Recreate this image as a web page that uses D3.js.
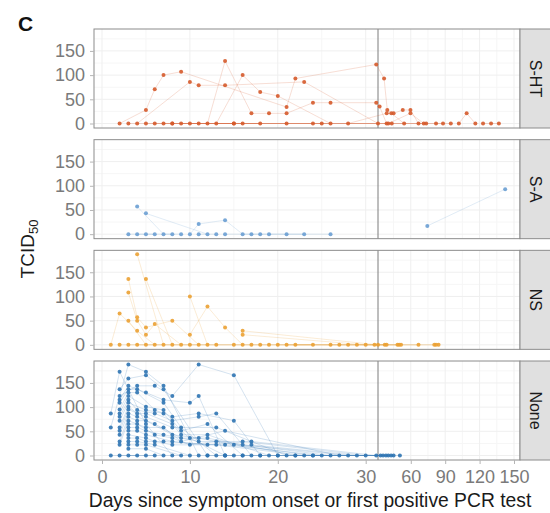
<!DOCTYPE html>
<html>
<head>
<meta charset="utf-8">
<script src="https://cdn.jsdelivr.net/npm/d3@7"></script>
<style>
  body { margin: 0; background: #fff; }
  svg { font-family: "Liberation Sans", Arial, sans-serif; }
  .tick text { fill: #7a7a7a; font-size: 18px; }
  .tick line { stroke: #b5b5b5; }
  .domain { display: none; }
</style>
</head>
<body>
<div id="chart"></div>
<script>
// facet groups, top to bottom
const groups = ["S-HT", "S-A", "NS", "None"];
const xTicks = [0, 10, 20, 30, 60, 90, 120, 150];
const yTicks = [0, 50, 100, 150];
const breakDay = 31.4; // axis is compressed after this day

// each patient = list of [day, TCID50]
const shtPatients = [
    [[2, 0], [5, 28], [6, 71], [7, 100], [9, 107], [21, 34], [22, 93], [31.2, 122], [36.7, 93], [39.5, 28], [43, 21], [54.2, 0]],
    [[4, 0], [10, 86], [11, 79], [14, 79], [23, 86], [31.4, 0]],
    [[12, 0], [14, 129], [17, 21], [19, 21], [21, 21], [24, 43], [26, 43], [31.2, 43], [32.8, 35], [38.9, 0]],
    [[13, 0], [16, 100], [18, 65], [20, 57], [26, 0]],
    [[28, 0], [39, 21], [45, 21], [53, 28], [59.7, 28], [66.7, 0]],
    [[40.4, 0], [59.7, 21], [71.3, 0]],
    [[101.9, 0], [108.7, 21], [116.3, 0]],
    [[3, 0], [8, 0], [15, 0]],
    [[5, 0], [11, 0], [18, 0]],
    [[6, 0], [15, 0], [25, 0]],
    [[7, 0], [16, 0], [43.4, 0]],
    [[8, 0], [21, 0], [73.4, 0]],
    [[9, 0], [24, 0], [82, 0], [88.1, 0]],
    [[10, 0], [94.9, 0]],
    [[123, 0], [130, 0], [136.8, 0]]
];

const saPatients = [
    [[4, 57], [7, 0], [9, 0]],
    [[5, 43], [12, 0]],
    [[10, 0], [11, 21], [14, 29], [16, 0], [21, 0], [26, 0]],
    [[74.4, 17], [142.3, 93]],
    [[3, 0], [5, 0], [6, 0]],
    [[4, 0], [8, 0]],
    [[11, 0], [13, 0]],
    [[14, 0], [17, 0], [19, 0], [23, 0]],
    [[18, 0]]
];

const nsPatients = [
    [[1, 0], [2, 65], [4, 29], [6, 0]],
    [[3, 136], [4, 57], [5, 36], [8, 50], [11, 0]],
    [[3, 108], [4, 50], [5, 21], [6, 43], [9, 0]],
    [[3, 50], [5, 0]],
    [[4, 187], [7, 0]],
    [[5, 136], [8, 0]],
    [[10, 100], [12, 0]],
    [[10, 21], [12, 79], [14, 36], [16, 0]],
    [[16, 29], [31.4, 0], [48.4, 0]],
    [[16, 21], [30, 0], [37.3, 0]],
    [[2, 0], [10, 0], [17, 0], [24, 0]],
    [[3, 0], [13, 0], [18, 0], [26, 0], [38.9, 0]],
    [[4, 0], [15, 0], [19, 0], [27, 0], [49.9, 0]],
    [[20, 0], [28, 0], [51.5, 0], [66.7, 0]],
    [[21, 0], [29, 0], [80.5, 0], [82, 0]],
    [[22, 0], [31, 0], [84.2, 0]]
];

const nonePatients = [
    [[1, 87], [2, 173], [5, 65], [8, 0]],
    [[1, 58], [3, 188], [5, 173], [7, 144], [11, 0]],
    [[2, 137], [3, 159], [5, 166], [7, 137], [12, 0]],
    [[2, 123], [4, 144], [6, 144], [8, 123], [11, 188], [15, 166], [20, 0]],
    [[2, 115], [3, 144], [5, 130], [7, 115], [10, 109], [11, 123], [14, 0]],
    [[2, 109], [3, 137], [4, 137], [7, 109], [9, 58], [13, 0]],
    [[2, 95], [3, 130], [4, 130], [6, 94], [8, 80], [11, 87], [15, 72], [18, 0]],
    [[2, 87], [3, 123], [5, 101], [7, 94], [9, 51], [12, 65], [16, 0]],
    [[2, 80], [3, 115], [4, 94], [6, 87], [8, 72], [11, 80], [13, 87], [17, 0]],
    [[2, 72], [3, 109], [5, 94], [7, 87], [9, 43], [12, 43], [19, 0]],
    [[2, 58], [3, 101], [4, 87], [5, 87], [8, 65], [10, 36], [14, 0]],
    [[2, 51], [3, 95], [5, 80], [8, 58], [13, 58], [21, 0]],
    [[2, 43], [3, 87], [4, 80], [6, 65], [9, 36], [12, 36], [22, 0]],
    [[2, 29], [3, 80], [4, 72], [5, 72], [8, 43], [11, 36], [15, 22], [24, 0]],
    [[2, 22], [3, 72], [5, 58], [7, 58], [9, 29], [14, 51], [27, 0]],
    [[3, 65], [4, 65], [6, 43], [8, 36], [10, 22], [13, 29], [26, 0]],
    [[3, 58], [4, 58], [5, 51], [7, 43], [11, 29], [16, 29], [30, 0]],
    [[3, 51], [4, 51], [5, 43], [8, 29], [12, 22], [17, 29], [31.2, 0]],
    [[3, 43], [5, 36], [6, 29], [8, 22], [14, 22], [25, 0]],
    [[3, 36], [4, 36], [5, 29], [7, 29], [13, 22], [23, 0]],
    [[3, 29], [4, 29], [6, 22], [10, 0]],
    [[3, 22], [4, 22], [5, 22], [9, 0]],
    [[3, 14], [5, 14], [7, 0]],
    [[16, 22], [28, 0]],
    [[17, 22], [29, 0]],
    [[1, 0], [4, 0]],
    [[2, 0], [6, 0]],
    [[3, 0], [5, 0], [15, 0]],
    [[12, 0], [33.6, 0]],
    [[14, 0], [35.8, 0]],
    [[16, 0], [38.3, 0]],
    [[18, 0], [40.4, 0]],
    [[20, 0], [42.8, 0]],
    [[22, 0], [45, 0]],
    [[24, 0], [50.5, 0]]
];

const patientsByGroup = [shtPatients, saPatients, nsPatients, nonePatients];
const groupColors = ["#d55a2b", "#6a9fd3", "#eba133", "#2f74b2"];

// layout
const margin = { top: 29, left: 94, right: 30 };
const width = 550, height = 513;
const plotW = 520 - margin.left;
const panelH = 99, panelStep = 110.67;

const svg = d3.select("#chart").append("svg")
    .attr("width", width)
    .attr("height", height);

// piecewise x: linear up to breakDay, compressed after
const x = d3.scaleLinear()
    .domain([0, breakDay, 150])
    .range([8, 284, 420]);

const y = d3.scaleLinear()
    .domain([-9.3, 195.3])
    .range([panelH, 0]);

const minorX = [5, 15, 25, 45, 75, 105, 135];
const minorY = [25, 75, 125, 175];

groups.forEach((g, i) => {
    let panel = svg.append("g")
        .attr("transform", "translate(" + margin.left + "," + (margin.top + i * panelStep) + ")");

    // grid
    panel.selectAll(".gx-minor").data(minorX).enter().append("line")
        .attr("x1", d => x(d)).attr("x2", d => x(d))
        .attr("y1", 0).attr("y2", panelH)
        .attr("stroke", "#f6f6f6");
    panel.selectAll(".gy-minor").data(minorY).enter().append("line")
        .attr("x1", 0).attr("x2", plotW)
        .attr("y1", d => y(d)).attr("y2", d => y(d))
        .attr("stroke", "#f6f6f6");
    panel.selectAll(".gx").data(xTicks).enter().append("line")
        .attr("x1", d => x(d)).attr("x2", d => x(d))
        .attr("y1", 0).attr("y2", panelH)
        .attr("stroke", "#efefef");
    panel.selectAll(".gy").data(yTicks).enter().append("line")
        .attr("x1", 0).attr("x2", plotW)
        .attr("y1", d => y(d)).attr("y2", d => y(d))
        .attr("stroke", "#efefef");

    // break line
    panel.append("line")
        .attr("x1", x(breakDay)).attr("x2", x(breakDay))
        .attr("y1", 0).attr("y2", panelH)
        .attr("stroke", "#7d7d7d")
        .attr("stroke-width", 1);

    let patients = patientsByGroup[i];
    let line = d3.line().x(d => x(d[0])).y(d => y(d[1]));

    panel.selectAll(".traj").data(patients).enter().append("path")
        .attr("d", line)
        .attr("fill", "none")
        .attr("stroke", groupColors[i])
        .attr("stroke-opacity", 0.2)
        .attr("stroke-width", 1);

    panel.selectAll(".pt").data(patients.flat()).enter().append("circle")
        .attr("cx", d => x(d[0]))
        .attr("cy", d => y(d[1]))
        .attr("r", 2)
        .attr("fill", groupColors[i])
        .attr("fill-opacity", 0.9);

    // border
    panel.append("rect")
        .attr("width", plotW).attr("height", panelH)
        .attr("fill", "none")
        .attr("stroke", "#8c8c8c");

    // strip
    panel.append("rect")
        .attr("x", plotW).attr("width", 34).attr("height", panelH)
        .attr("fill", "#e0e0e0")
        .attr("stroke", "#8c8c8c");
    panel.append("text")
        .attr("transform", "translate(" + (plotW + 16) + "," + (panelH / 2) + ") rotate(90)")
        .attr("text-anchor", "middle")
        .attr("dy", "0.35em")
        .style("font-size", "16px")
        .style("fill", "#1a1a1a")
        .text(g);

    // y axis
    panel.append("g")
        .call(d3.axisLeft(y).tickValues(yTicks).tickSize(4).tickPadding(5));

    if (i === groups.length - 1) {
        panel.append("g")
            .attr("transform", "translate(0," + panelH + ")")
            .call(d3.axisBottom(x).tickValues(xTicks).tickSize(4).tickPadding(6));
    }
});

// axis titles
svg.append("text")
    .attr("x", margin.left + plotW / 2 + 3)
    .attr("y", 507)
    .attr("text-anchor", "middle")
    .style("font-size", "19.3px")
    .style("fill", "#1a1a1a")
    .text("Days since symptom onset or first positive PCR test");

let yTitle = svg.append("text")
    .attr("transform", "translate(34,249) rotate(-90)")
    .attr("text-anchor", "middle")
    .style("font-size", "19px")
    .style("fill", "#1a1a1a");
yTitle.append("tspan").text("TCID");
yTitle.append("tspan").attr("dy", "0.3em").style("font-size", "13px").text("50");

// panel letter
svg.append("text")
    .attr("x", 18)
    .attr("y", 31)
    .style("font-size", "21px")
    .style("font-weight", "bold")
    .style("fill", "#111")
    .text("C");
</script>
</body>
</html>
